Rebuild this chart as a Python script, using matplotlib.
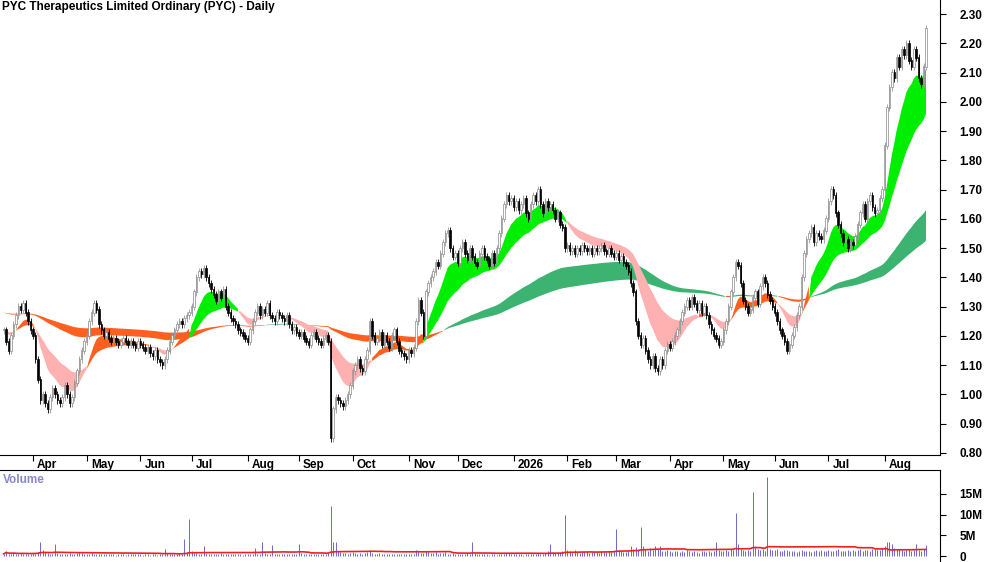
import numpy as np
import pandas as pd
import matplotlib
matplotlib.use("Agg")
import matplotlib.pyplot as plt

TITLE = "PYC Therapeutics Limited Ordinary (PYC) - Daily"
START = "2025-03-14"

# daily closes, month by month
close = [
 1.22,1.18,1.15,1.20,1.24,1.27,1.30,1.29,1.31,1.28,1.25,1.22,
 1.20,1.12,1.05,0.98,1.00,0.97,0.95,0.99,1.02,1.00,0.98,0.97,0.99,1.03,1.00,0.97,0.99,1.04,1.08,1.12,1.15,1.18,
 1.20,1.25,1.28,1.31,1.29,1.24,1.22,1.20,1.21,1.19,1.18,1.19,1.18,1.17,1.18,1.19,1.18,1.17,1.18,1.17,1.16,1.18,
 1.17,1.16,1.15,1.16,1.14,1.13,1.15,1.12,1.11,1.10,1.12,1.15,1.18,1.20,1.22,1.24,1.25,1.24,1.26,1.27,1.28,
 1.30,1.35,1.40,1.42,1.41,1.43,1.40,1.38,1.36,1.34,1.32,1.35,1.33,1.36,1.30,1.28,1.26,1.25,1.24,1.22,1.21,1.20,1.19,
 1.18,1.22,1.25,1.28,1.30,1.27,1.29,1.28,1.31,1.27,1.26,1.25,1.28,1.27,1.26,1.25,1.27,1.24,1.22,1.23,1.21,
 1.20,1.21,1.19,1.18,1.17,1.20,1.21,1.19,1.18,1.17,1.19,1.20,1.18,0.85,0.95,0.99,0.98,0.97,0.96,0.98,1.00,1.03,
 1.08,1.10,1.12,1.09,1.08,1.12,1.15,1.25,1.20,1.18,1.19,1.21,1.17,1.20,1.18,1.16,1.20,1.22,1.18,1.15,1.14,1.13,1.12,
 1.15,1.14,1.16,1.25,1.32,1.28,1.20,1.35,1.38,1.40,1.42,1.45,1.44,1.48,1.52,1.55,1.56,1.50,1.47,1.48,
 1.45,1.50,1.52,1.48,1.46,1.50,1.47,1.45,1.44,1.48,1.50,1.47,1.46,1.44,1.48,1.45,1.50,1.55,1.60,1.65,1.68,1.66,1.67,
 1.64,1.66,1.63,1.65,1.67,1.62,1.60,1.65,1.68,1.66,1.70,1.65,1.62,1.66,1.64,1.65,1.63,1.60,1.62,1.58,1.57,1.50,
 1.51,1.49,1.50,1.48,1.50,1.49,1.51,1.50,1.49,1.50,1.48,1.50,1.49,1.50,1.51,1.49,1.48,1.50,1.48,1.47,
 1.48,1.46,1.47,1.45,1.44,1.42,1.38,1.35,1.25,1.20,1.17,1.19,1.15,1.12,1.10,1.13,1.09,1.08,1.12,1.10,1.15,1.17,
 1.16,1.18,1.20,1.22,1.25,1.28,1.30,1.32,1.30,1.33,1.31,1.29,1.31,1.28,1.30,1.27,1.24,1.22,1.20,1.19,1.17,1.18,
 1.22,1.25,1.30,1.35,1.40,1.45,1.44,1.38,1.32,1.30,1.28,1.29,1.33,1.35,1.31,1.37,1.40,1.38,1.34,1.32,1.30,
 1.28,1.25,1.22,1.20,1.18,1.15,1.17,1.20,1.23,1.27,1.30,1.40,1.48,1.53,1.55,1.57,1.52,1.55,1.54,1.53,1.56,1.60,
 1.66,1.70,1.68,1.62,1.58,1.55,1.52,1.53,1.50,1.52,1.51,1.54,1.58,1.62,1.65,1.60,1.66,1.68,1.64,1.62,1.63,1.67,1.70,
 1.85,1.98,2.05,2.10,2.08,2.15,2.12,2.18,2.16,2.20,2.14,2.12,2.18,2.15,2.08,2.06,2.12,2.25,
]

# daily volume, millions
volume = [
 0.5,1.2,0.4,0.6,0.8,0.5,0.4,0.7,0.6,0.5,0.4,0.6,
 0.8,0.6,1.0,3.5,1.5,0.9,0.7,0.5,0.6,2.8,0.8,0.5,0.6,0.4,0.5,0.7,0.6,0.5,0.8,0.9,0.7,0.6,
 0.6,0.5,0.7,0.5,0.4,0.6,0.5,0.4,0.5,0.6,0.4,0.5,0.3,0.4,0.5,0.4,0.3,0.5,0.4,0.6,0.5,0.4,
 0.4,0.3,0.5,0.4,0.3,0.4,0.5,0.3,0.4,0.6,1.8,0.8,0.5,0.4,0.6,0.5,0.7,0.6,4.0,0.9,9.0,
 1.2,0.8,0.7,0.6,0.5,2.5,0.7,0.6,0.5,0.4,0.6,0.5,0.7,0.4,0.5,0.6,0.4,0.5,0.6,0.4,0.5,0.3,0.4,
 0.5,0.4,0.6,2.0,0.5,0.4,3.3,0.8,0.6,0.5,2.7,0.6,0.5,0.4,0.6,0.5,0.4,0.5,0.6,0.4,0.5,
 3.0,0.8,0.6,0.5,0.4,0.6,0.5,0.4,0.6,0.5,0.4,0.5,0.7,12.0,3.5,3.5,1.2,0.9,0.8,0.7,0.6,0.8,
 0.9,0.7,0.6,0.8,0.6,0.7,0.9,1.5,0.8,0.6,0.5,0.7,0.6,0.5,0.6,0.5,0.4,0.6,0.5,0.4,0.5,0.4,0.6,
 0.5,0.6,0.4,1.5,1.2,0.8,0.7,1.1,0.9,0.8,0.7,0.9,0.6,0.8,0.7,0.9,0.6,0.5,0.7,0.6,
 0.5,0.6,0.4,0.5,0.7,0.6,3.3,0.8,0.5,0.4,0.6,0.5,0.4,0.3,0.5,0.4,0.3,0.4,0.5,0.6,0.8,0.7,0.6,
 0.5,0.6,0.4,0.5,0.3,0.4,0.5,0.6,0.4,0.5,0.7,0.6,0.5,0.8,1.2,2.8,0.9,0.7,0.8,1.0,1.2,10.0,
 1.5,1.2,0.9,1.4,1.0,0.8,1.3,0.9,1.1,0.8,1.0,1.2,0.9,0.8,1.1,0.9,1.0,1.3,0.9,1.2,
 6.5,1.5,1.2,1.0,0.9,1.1,2.5,1.8,2.2,1.5,7.0,2.5,1.8,1.2,2.0,1.5,2.4,1.6,2.5,1.3,1.1,1.4,
 1.2,1.0,1.3,1.1,0.9,1.2,1.0,1.4,1.1,0.9,1.2,1.0,0.8,1.1,1.3,1.0,1.2,0.9,1.1,3.5,1.4,1.2,
 1.3,1.5,1.2,1.6,1.4,10.5,2.8,1.6,1.4,1.2,1.5,1.3,15.5,2.5,1.8,1.4,1.6,1.3,19.0,1.8,1.5,
 1.4,1.6,1.3,1.2,1.5,1.4,1.1,1.3,1.2,1.0,1.2,1.4,1.3,1.1,1.2,1.0,1.3,1.5,1.2,1.4,1.1,1.3,
 1.5,1.3,1.2,1.4,1.6,1.3,1.1,1.2,1.4,1.3,1.5,1.2,1.4,1.6,1.3,1.5,1.4,1.2,1.6,1.8,1.4,1.5,1.7,
 2.5,3.5,3.5,2.8,2.0,1.8,1.6,1.5,1.3,1.4,1.6,1.2,1.5,3.0,1.4,1.3,1.8,2.6,
]

SHORT = [12, 15, 18, 21, 25, 30]
LONG = [110, 125, 140, 155, 170, 190]
PRIOR = 1.28  # level the averages carry in from before the window

n = min(len(close), len(volume))
c = pd.Series(close[:n])
v = np.array(volume[:n])
dates = pd.bdate_range(START, periods=n)
x = np.arange(n)
o = c.shift(1).fillna(c.iloc[0])
hi = np.maximum(o, c) + 0.012
lo = np.minimum(o, c) - 0.012


def ema(series, span, seed):
    a = 2 / (span + 1)
    out, prev = [], seed
    for val in series:
        prev = a * val + (1 - a) * prev
        out.append(prev)
    return pd.Series(out)


es = pd.concat([ema(c, s, c.iloc[0]) for s in SHORT], axis=1)
el = pd.concat([ema(c, s, PRIOR) for s in LONG], axis=1)
s_lo, s_hi = es.min(axis=1), es.max(axis=1)
l_lo, l_hi = el.min(axis=1), el.max(axis=1)

fig = plt.figure(figsize=(10, 5.62), dpi=100)
plt.rcParams["font.family"] = ["Liberation Sans", "DejaVu Sans"]
ax = fig.add_axes([0, 1 - 455 / 562, 0.94, 455 / 562])
axv = fig.add_axes([0, 0, 0.94, 92 / 562])

# long ribbon
l_up = (el.iloc[:, 0] >= el.iloc[:, -1]).values
ax.fill_between(x, l_lo, l_hi, where=l_up, color="#3cb371", lw=0, interpolate=True, zorder=1)
ax.fill_between(x, l_lo, l_hi, where=~l_up, color="#ff6020", lw=0, interpolate=True, zorder=1)
# short ribbon
s_up = (es.iloc[:, 0] >= es.iloc[:, -1]).values
above = (s_lo >= l_lo).values
ax.fill_between(x, s_lo, s_hi, where=s_up & above, color="#00ee00", lw=0, interpolate=True, zorder=2)
ax.fill_between(x, s_lo, s_hi, where=s_up & ~above, color="#ff6020", lw=0, interpolate=True, zorder=2)
ax.fill_between(x, s_lo, s_hi, where=~s_up, color="#ffb0b0", lw=0, interpolate=True, zorder=2)

# candles
up = (c >= o).values
ax.vlines(x, lo, hi, color=np.where(up, "#999999", "black"), lw=0.6, zorder=3)
ax.bar(x[up], (c - o)[up] + 0.002, bottom=o[up], width=0.6,
       color="white", edgecolor="#888888", lw=0.5, zorder=4)
ax.bar(x[~up], (o - c)[~up] + 0.002, bottom=c[~up], width=0.6,
       color="black", edgecolor="black", lw=0.5, zorder=4)

ppd = 2.44
xlim = (-1.5, 940 / ppd - 1.5)
ax.set_xlim(*xlim)
ax.set_ylim(0.793, 2.348)
ax.yaxis.tick_right()
ticks = np.arange(0.8, 2.31, 0.1)
ax.set_yticks(ticks)
ax.set_yticklabels([f"{t:.2f}" for t in ticks])
for s in ["top", "left"]:
    ax.spines[s].set_visible(False)
ax.tick_params(axis="y", direction="out", length=4, pad=10, labelsize=8.5)
ax.text(0.002, 0.997, TITLE, transform=ax.transAxes, ha="left", va="top",
        fontsize=8.5, fontweight="bold")

# month ticks
mstarts = [i for i in range(1, n) if dates[i].month != dates[i - 1].month]
labels = ["2026" if dates[i].month == 1 else dates[i].strftime("%b") for i in mstarts]
ax.set_xticks(mstarts)
ax.set_xticklabels([])
ax.tick_params(axis="x", direction="out", length=4)
for i, lab in zip(mstarts, labels):
    ax.annotate(lab, (i, 0), xycoords=("data", "axes fraction"), xytext=(3, -3),
                textcoords="offset points", ha="left", va="top",
                fontsize=8.5, fontweight="bold", annotation_clip=False)
for lab in ax.get_yticklabels():
    lab.set_fontweight("bold")

# volume
vma = pd.Series(v).rolling(50, min_periods=1).mean()
axv.vlines(x, 0, v, color="#6a6ad0", lw=0.7)
axv.plot(x, vma, color="#ee2020", lw=1.2)
axv.set_xlim(*xlim)
axv.set_ylim(-1.45, 20.8)
axv.yaxis.tick_right()
axv.set_yticks([0, 5, 10, 15])
axv.set_yticklabels(["0", "5M", "10M", "15M"], fontweight="bold")
axv.tick_params(axis="y", direction="out", length=4, pad=10, labelsize=8.5)
axv.set_xticks([])
axv.spines["left"].set_visible(False)
axv.spines["bottom"].set_visible(False)
axv.text(0.003, 0.96, "Volume", transform=axv.transAxes, ha="left", va="top",
         fontsize=8.5, fontweight="bold", color="#8888cc")

fig.savefig("out.png", dpi=100)
